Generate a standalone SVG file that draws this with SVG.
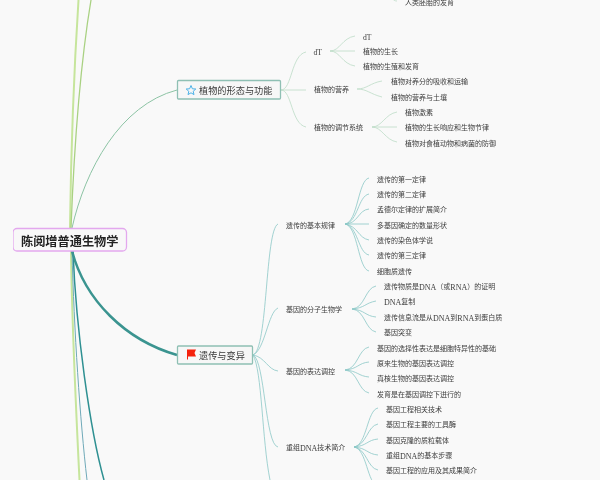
<svg xmlns="http://www.w3.org/2000/svg" width="600" height="480" viewBox="0 0 600 480">
<style>
text{font-family:"Liberation Serif","Noto Sans CJK SC",sans-serif;dominant-baseline:central;fill:#3c3c3c}
.l{font-size:7px}
.m{font-size:7.600px}
.e{font-size:8px}
.t{font-size:9.200px;fill:#3a3a3a}
.r{font-size:12.200px;font-weight:700;fill:#222;font-family:"Noto Sans CJK SC",sans-serif}
.box{fill:#f7f7f7;stroke:#8fc0b4;stroke-width:1.300}
.line{fill:none}
.g{fill:none;stroke:#bcdcc6;stroke-width:.8}
.c{fill:none;stroke:#8cc8c6;stroke-width:.8}
</style>
<defs><filter id="soft" x="0" y="0" width="100%" height="100%"><feGaussianBlur stdDeviation="0.3"/></filter></defs>
<rect width="600" height="480" fill="#f9f9f9"/>
<g filter="url(#soft)">
<g id="connectors">
<path class="line" d="M70 228C71 150 74 70 78.500 0" stroke="#c6e59c" stroke-width="2"/>
<path class="line" d="M71 228C74 150 81 60 91 0" stroke="#a9d182" stroke-width="1.300"/>
<path class="line" d="M72 228C85 170 120 105 177 90" stroke="#8cc3a4" stroke-width="1"/>
<path class="line" d="M71 251C72 330 76 410 79.500 480" stroke="#c6e59c" stroke-width="2"/>
<path class="line" d="M72 251C74 330 80 420 87 480" stroke="#6fa9b8" stroke-width="1"/>
<path class="line" d="M73 251C76 330 90 430 104 480" stroke="#2f9092" stroke-width="1.500"/>
<path class="line" d="M72 251C85 300 125 340 177 355" stroke="#3a9490" stroke-width="2.500"/>
<path class="g" d="M281 90C292 90 291 55 306 52M281 90H306M281 90C292 90 291 124 306 127"/>
<path class="g" d="M330 51C340 51 342 38 355 36M330 51H355M330 51C340 51 342 64 355 66"/>
<path class="g" d="M357 89C367 89 370 83 382 81M357 89C367 89 370 94 382 97"/>
<path class="g" d="M372 127C382 127 385 114 397 112M372 127H397M372 127C382 127 385 140 397 142"/>
<path class="g" d="M391 -3C393 0 395 1 397 1"/>
<path class="c" d="M253 355C268 350 265 230 278 224M253 355C265 350 268 312 278 308M253 355C265 357 268 370 278 371M253 355C265 360 265 445 278 447M253 355C262 370 262 440 270 480"/>
<path class="c" d="M345 224C358 222 358 180 369 178M345 224C358 222 358 196 369 194M345 224C358 224 358 210 369 209M345 224H369M345 224C358 226 358 238 369 240M345 224C358 226 358 253 369 255M345 224C358 226 358 269 369 271"/>
<path class="c" d="M352 309C365 308 365 288 376 286M352 309C365 308 365 303 376 301M352 309C365 310 365 316 376 317M352 309C365 310 365 330 376 332"/>
<path class="c" d="M345 370C358 369 358 349 369 347M345 370C358 369 358 363 369 362M345 370C358 371 358 376 369 377M345 370C358 371 358 391 369 393"/>
<path class="c" d="M354 447C367 445 367 410 378 408M354 447C367 445 367 426 378 424M354 447C367 446 367 440 378 439M354 447C367 448 367 454 378 455M354 447C367 449 367 468 378 470M354 447C367 449 367 484 378 486"/>
</g>
<g id="root"><rect x="13" y="228.500" width="113.500" height="22.500" rx="4" fill="#f8f8f8" stroke="#e3a8ee" stroke-width="1.300"/><text class="r" x="21" y="240.500">陈阅增普通生物学</text></g>
<g id="n-plant"><rect class="box" x="177.500" y="80.500" width="103" height="18.500" rx="1"/><polygon points="191,85.500 192.400,88.800 195.800,89 193.200,91.300 194,94.600 191,92.800 188,94.600 188.800,91.300 186.200,89 189.600,88.800" fill="none" stroke="#4db2e8" stroke-width="1"/><text class="t" x="199" y="90.500">植物的形态与功能</text></g>
<g id="n-genetic"><rect class="box" x="177.500" y="346" width="75" height="18" rx="1"/><path d="M187 349.500H196L194.500 353 196 356.500H188V359.500H187Z" fill="#f5230f"/><text class="t" x="199" y="356">遗传与变异</text></g>
<g id="plant-texts" transform="translate(0 .7)">
<text class="l" x="405" y="2">人类胚胎的发育</text>
<text class="m" x="313.500" y="52">dT</text>
<text class="l" x="314" y="89">植物的营养</text>
<text class="l" x="314" y="127.500">植物的调节系统</text>
<text class="m" x="363" y="36.500">dT</text>
<text class="l" x="363" y="51">植物的生长</text>
<text class="l" x="363" y="66">植物的生殖和发育</text>
<text class="l" x="391" y="81.500">植物对养分的吸收和运输</text>
<text class="l" x="391" y="97">植物的营养与土壤</text>
<text class="l" x="405" y="112.500">植物激素</text>
<text class="l" x="405" y="127.500">植物的生长响应和生物节律</text>
<text class="l" x="405" y="143">植物对食植动物和病菌的防御</text>
</g>
<g id="genetic-texts" transform="translate(0 .7)">
<text class="l" x="286" y="225">遗传的基本规律</text>
<text class="l" x="286" y="309">基因的分子生物学</text>
<text class="l" x="286" y="371">基因的表达调控</text>
<text class="l" x="286" y="447.500">重组<tspan class="e">DNA</tspan>技术简介</text>
<text class="l" x="377" y="179">遗传的第一定律</text>
<text class="l" x="377" y="194.500">遗传的第二定律</text>
<text class="l" x="377" y="209.500">孟德尔定律的扩展简介</text>
<text class="l" x="377" y="225">多基因确定的数量形状</text>
<text class="l" x="377" y="240">遗传的染色体学说</text>
<text class="l" x="377" y="255.500">遗传的第三定律</text>
<text class="l" x="377" y="271">细胞质遗传</text>
<text class="l" x="384" y="286">遗传物质是<tspan class="e">DNA</tspan>（或<tspan class="e">RNA</tspan>）的证明</text>
<text class="l" x="384" y="301.500"><tspan class="e">DNA</tspan>复制</text>
<text class="l" x="384" y="317">遗传信息流是从<tspan class="e">DNA</tspan>到<tspan class="e">RNA</tspan>到蛋白质</text>
<text class="l" x="384" y="332">基因突变</text>
<text class="l" x="377" y="348">基因的选择性表达是细胞特异性的基础</text>
<text class="l" x="377" y="363">原来生物的基因表达调控</text>
<text class="l" x="377" y="378.500">真核生物的基因表达调控</text>
<text class="l" x="377" y="394">发育是在基因调控下进行的</text>
<text class="l" x="386" y="409">基因工程相关技术</text>
<text class="l" x="386" y="424.500">基因工程主要的工具酶</text>
<text class="l" x="386" y="440">基因克隆的质粒载体</text>
<text class="l" x="386" y="455">重组<tspan class="e">DNA</tspan>的基本步骤</text>
<text class="l" x="386" y="470.500">基因工程的应用及其成果简介</text>
</g>
</g>
</svg>
